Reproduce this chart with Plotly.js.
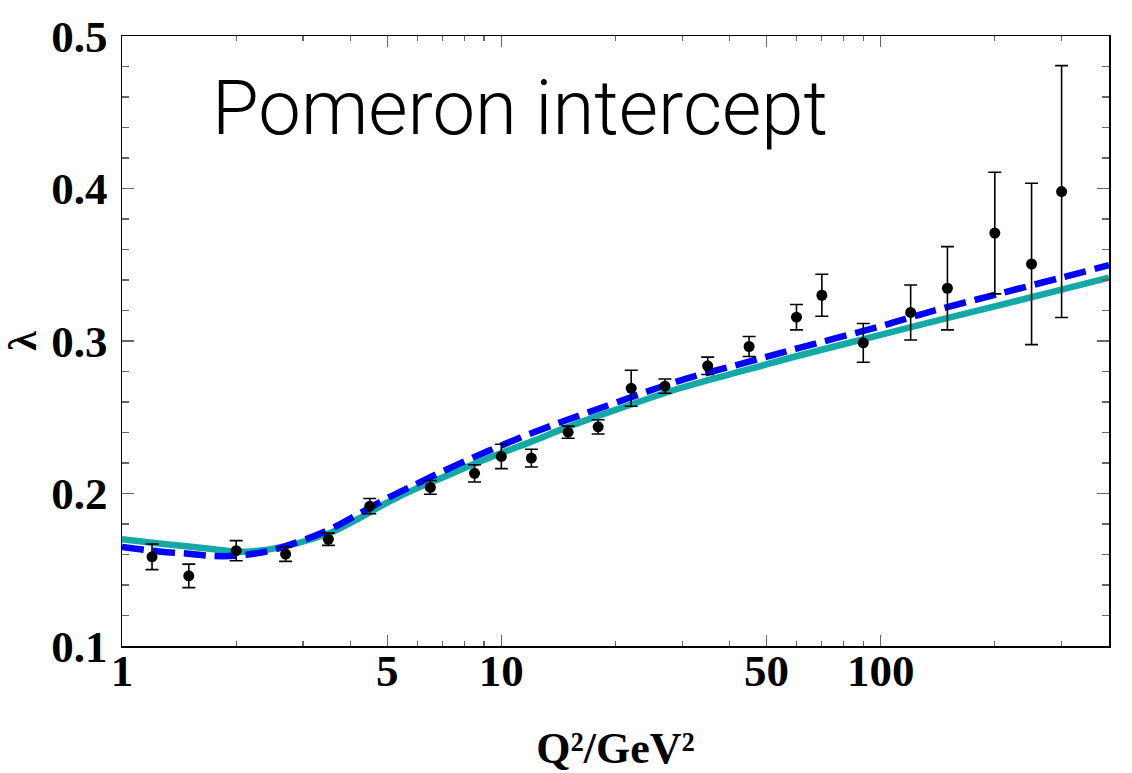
<!DOCTYPE html>
<html>
<head>
<meta charset="utf-8">
<script src="https://cdn.plot.ly/plotly-3.0.1.min.js"></script>
<style>
html,body{margin:0;padding:0;background:#fff;}
#chart{width:1132px;height:773px;}
</style>
</head>
<body>
<div id="chart"></div>
<script>
// Data points (Q^2 in GeV^2, lambda, symmetric error)
const dataQ2 = [1.2, 1.5, 2.0, 2.7, 3.5, 4.5, 6.5, 8.5, 10, 12, 15, 18, 22, 27, 35, 45, 60, 70, 90, 120, 150, 200, 250, 300];
const dataLambda = [0.1585, 0.146, 0.1625, 0.1603, 0.170, 0.1917, 0.204, 0.2132, 0.2243, 0.2232, 0.2402, 0.2437, 0.269, 0.2704, 0.2837, 0.2964, 0.3156, 0.330, 0.2988, 0.3187, 0.3346, 0.3708, 0.3505, 0.398];
const dataErr = [0.0084, 0.0077, 0.0066, 0.0048, 0.004, 0.005, 0.0045, 0.0057, 0.008, 0.0058, 0.004, 0.0047, 0.0118, 0.0047, 0.0057, 0.0066, 0.0083, 0.0138, 0.0127, 0.018, 0.0273, 0.0399, 0.0529, 0.0826];

// Model curves sampled along Q^2
const curveQ2 = [1, 1.25, 1.5, 1.75, 2, 2.35, 2.7, 3.2, 3.6, 4.2, 5, 6, 7, 8.5, 10, 12, 15, 20, 30, 45, 61, 100, 134, 200, 300, 400];
const curveSolid = [0.170, 0.1672, 0.1652, 0.1635, 0.1618, 0.1628, 0.1655, 0.1705, 0.175, 0.1835, 0.194, 0.2035, 0.2105, 0.2195, 0.2265, 0.234, 0.2437, 0.2548, 0.2695, 0.2815, 0.2905, 0.304, 0.312, 0.3227, 0.3337, 0.3416];
const curveDashed = [0.165, 0.162, 0.1605, 0.159, 0.1592, 0.1615, 0.1655, 0.172, 0.1775, 0.1865, 0.1968, 0.2065, 0.2145, 0.224, 0.2315, 0.2395, 0.2485, 0.2595, 0.2745, 0.2865, 0.2955, 0.3097, 0.319, 0.3303, 0.3416, 0.3497];

// Axis ticks
const xTickVals = [1, 5, 10, 50, 100];
const xTickText = ['1', '5', '10', '50', '100'];
const xMinorVals = [2, 3, 4, 6, 7, 8, 9, 20, 30, 40, 60, 70, 80, 90, 200, 300, 400];
const yTickVals = [0.1, 0.2, 0.3, 0.4, 0.5];
const yTickText = ['0.1', '0.2', '0.3', '0.4', '0.5'];

const traces = [
  {
    x: curveQ2, y: curveSolid, type: 'scatter', mode: 'lines',
    line: {color: '#14a9a6', width: 6.5, shape: 'spline'},
    hoverinfo: 'skip', showlegend: false
  },
  {
    x: curveQ2, y: curveDashed, type: 'scatter', mode: 'lines',
    line: {color: '#0000ff', width: 6.5, dash: '22px,9px', shape: 'spline'},
    hoverinfo: 'skip', showlegend: false
  },
  {
    x: dataQ2, y: dataLambda, type: 'scatter', mode: 'markers',
    marker: {color: '#000', size: 11},
    error_y: {type: 'data', array: dataErr, visible: true, color: '#000', thickness: 1.6, width: 6.5},
    showlegend: false
  }
];

const serif = '"Liberation Serif", "Times New Roman", serif';
const tickFont = {family: serif, size: 45, color: '#000', weight: 'bold'};

const layout = {
  width: 1132, height: 773,
  margin: {l: 122, r: 23, t: 36, b: 127},
  paper_bgcolor: '#fff', plot_bgcolor: '#fff',
  showlegend: false,
  xaxis: {
    type: 'log',
    range: [0, Math.log10(400)],
    tickmode: 'array', tickvals: xTickVals, ticktext: xTickText,
    ticks: 'inside', ticklen: 11, tickwidth: 1.2, tickcolor: '#666',
    minor: {tickmode: 'array', tickvals: xMinorVals, ticks: 'inside', ticklen: 5, tickwidth: 1.2, tickcolor: '#666', showgrid: false},
    showgrid: false, zeroline: false,
    showline: true, linecolor: '#000', linewidth: 1.5, mirror: 'allticks',
    tickfont: tickFont, ticklabelstandoff: -16,
    title: {text: 'Q²/GeV²', font: {family: serif, size: 44, color: '#000', weight: 'bold'}, standoff: 40}
  },
  yaxis: {
    range: [0.1, 0.5],
    tickmode: 'array', tickvals: yTickVals, ticktext: yTickText,
    ticks: 'inside', ticklen: 12, tickwidth: 1.2, tickcolor: '#666',
    minor: {tickmode: 'linear', tick0: 0.1, dtick: 0.02, ticks: 'inside', ticklen: 7, tickwidth: 1.2, tickcolor: '#666', showgrid: false},
    showgrid: false, zeroline: false,
    showline: true, linecolor: '#000', linewidth: 1.5, mirror: 'allticks',
    tickfont: tickFont, ticklabelstandoff: 4,
    title: {text: 'λ', font: {family: serif, size: 40, color: '#000', weight: 'bold'}, standoff: 36}
  },
  annotations: [
    {
      text: 'Pomeron intercept', xref: 'paper', yref: 'paper',
      x: 0.089, y: 0.882, xanchor: 'left', yanchor: 'middle', showarrow: false,
      font: {family: 'Roboto, "Liberation Sans", sans-serif', size: 76, color: '#000', weight: 300}
    }
  ]
};

Plotly.newPlot('chart', traces, layout, {displayModeBar: false, staticPlot: true});
</script>
</body>
</html>
